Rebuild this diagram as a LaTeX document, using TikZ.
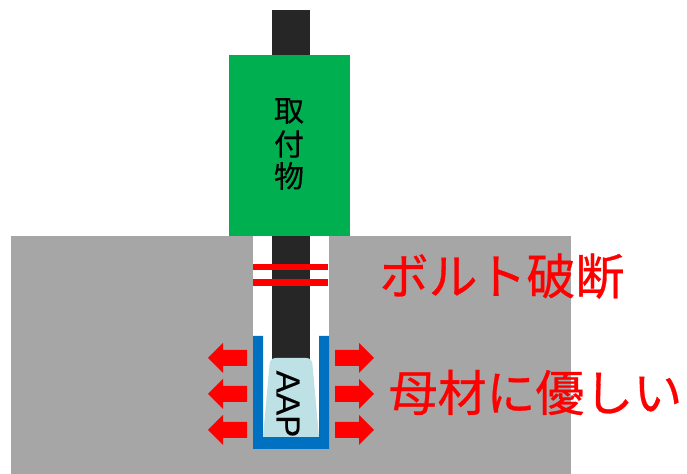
\documentclass[tikz,border=0pt]{standalone}
\usepackage{fontspec}
\setmainfont{Liberation Sans}
\newfontfamily\jpfont[FakeBold=0.6]{Noto Sans CJK JP}
\newfontfamily\jpthin[FakeBold=0.3]{Noto Sans CJK JP}
\newfontfamily\aapfont[FakeBold=0.3]{Liberation Sans}
\usepackage{xcolor}
\usetikzlibrary{positioning}
\definecolor{basegray}{HTML}{A6A6A6}
\definecolor{boltblack}{HTML}{262626}
\definecolor{plategreen}{HTML}{00B050}
\definecolor{sleeveblue}{HTML}{0070C0}
\definecolor{aapblue}{HTML}{BDE1E5}

\begin{document}
\begin{tikzpicture}[
  x=0.75pt,
  y=-0.75pt,
  pushleft/.style={fill=red, draw=none},
  label/.style={
    text=red,
    inner sep=0pt,
    font=\jpfont\fontsize{36.7}{40}\selectfont
  },
  platetext/.style={
    inner sep=0pt,
    font=\jpthin\fontsize{22.5}{25}\selectfont
  }
]
\useasboundingbox (0,0) rectangle (687,474);

% Base material and hole
\fill[basegray] (11,236) rectangle (571,474);
\fill[white] (253,236) rectangle (329,449);

% Bolt and plate
\fill[boltblack] (272,10) rectangle (310,365);
\fill[plategreen] (229,55) rectangle (350,236.5);

% Sleeve and adhesive
\fill[sleeveblue] (253,336) -- (263,336) -- (263,437) -- (319,437) -- (319,336)
  -- (329,336) -- (329,449) -- (253,449) -- cycle;
\fill[aapblue] (263,437) -- (269.5,365) .. controls (270,360) and (272,358) .. (276,358)
  -- (306,358) .. controls (310,358) and (312,360) .. (312.5,365) -- (319,437) -- cycle;

% Break lines
\fill[red] (253,264) rectangle (328,270);
\fill[red] (253,279) rectangle (328,286);

% Push arrows
\foreach \yc in {358,394,430} {
  \fill[pushleft] (208,\yc) -- (223,\yc-15) -- (223,\yc-8) -- (247,\yc-8)
    -- (247,\yc+8) -- (223,\yc+8) -- (223,\yc+15) -- cycle;
  \fill[pushleft] (374,\yc) -- (359,\yc-15) -- (359,\yc-8) -- (335,\yc-8)
    -- (335,\yc+8) -- (359,\yc+8) -- (359,\yc+15) -- cycle;
}

% Labels
\node[platetext] (toritsuke1) at (289,111) {取};
\node[platetext] (toritsuke2) at (289,144) {付};
\node[platetext] (toritsuke3) at (289,176) {物};
\node[inner sep=0pt, rotate=-90, font=\aapfont\fontsize{25}{27}\selectfont] (aap) at (288,404) {AAP};
\node[label] (breaktext) at (502,276) {ボルト破断};
\node[label] (basetext) at (535.5,392.5) {母材に優しい};

\end{tikzpicture}
\end{document}
